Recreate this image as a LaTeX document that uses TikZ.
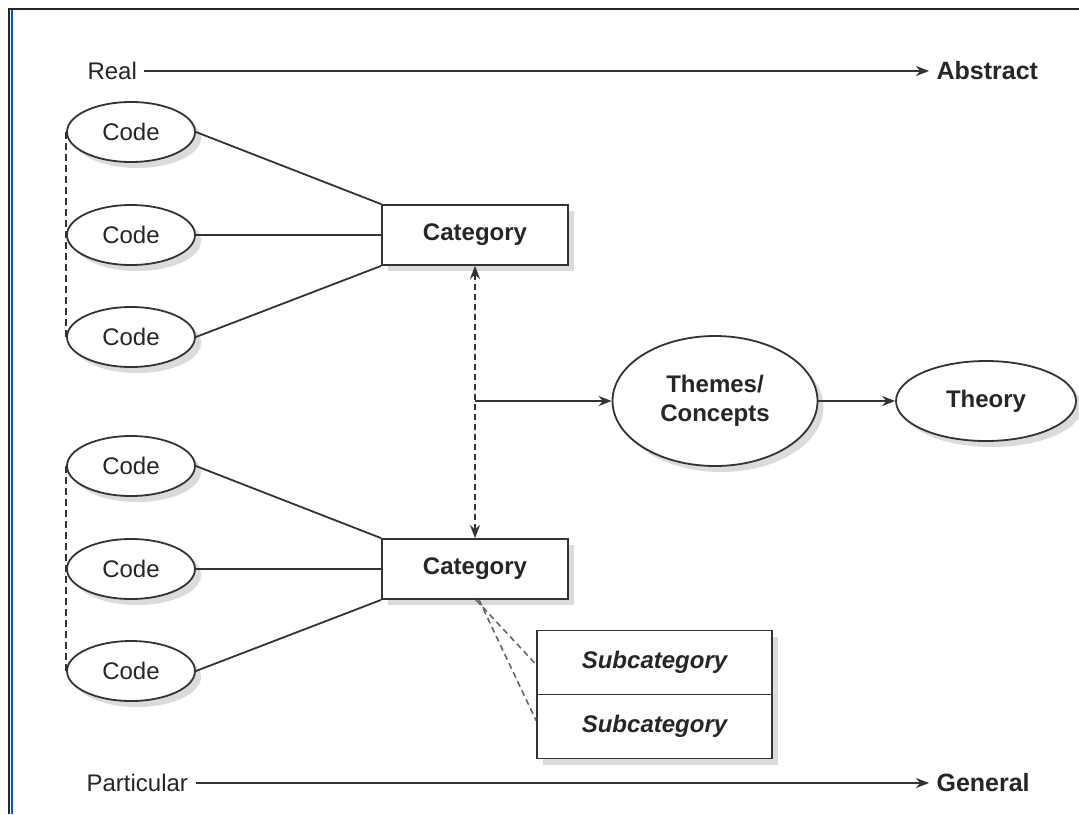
\documentclass[tikz,border=0pt]{standalone}
\usepackage{fontspec}
\setmainfont{Liberation Sans}
\usetikzlibrary{arrows.meta,shadows,shapes.geometric,calc}

\begin{document}
\begin{tikzpicture}[x=0.5pt,y=-0.5pt,
  line width=0.9pt,
  every node/.style={font=\fontsize{12}{14.5}\selectfont, text=black!85},
  shade/.style={drop shadow={shadow xshift=3pt, shadow yshift=-3pt, fill=black!28}},
  codeell/.style={ellipse, draw=black!80, fill=white, minimum width=64pt, minimum height=30pt, inner sep=0pt, shade},
  catbox/.style={rectangle, draw=black!80, fill=white, minimum width=93pt, minimum height=30pt, font=\fontsize{12}{14.5}\selectfont\bfseries, shade},
  subbox/.style={rectangle, draw=black!80, fill=white, minimum width=117.5pt, minimum height=32pt, font=\fontsize{12}{14.5}\selectfont\bfseries\itshape, shade},
  bigell/.style={ellipse, draw=black!80, fill=white, inner sep=0pt, align=center, font=\fontsize{12}{14.5}\selectfont\bfseries, shade},
  axislabel/.style={anchor=west},
  link/.style={draw=black!80},
  arr/.style={draw=black!80, -{Stealth[length=6.5pt,width=5pt]}},
  codelink/.style={draw=black!80, dash pattern=on 3.5pt off 2pt, line width=0.7pt},
  sublink/.style={draw=black!60, dash pattern=on 3pt off 2pt, line width=0.8pt}
]
\useasboundingbox (0,0) rectangle (1079,814);
\fill[white] (0,0) rectangle (1079,814);

% page frame
\draw[line width=1pt, black!85] (9,814) -- (9,9) -- (1079,9);
\draw[line width=1pt, blue!70!cyan] (12,10) -- (12,814);

% axes
\node[axislabel] (real) at (80,71) {Real};
\node[axislabel, font=\fontsize{12.5}{15}\selectfont\bfseries] (abstract) at (929,71) {Abstract};
\draw[arr] (real.east) -- (abstract.west);

\node[axislabel] (particular) at (79,783) {Particular};
\node[axislabel, font=\fontsize{12.5}{15}\selectfont\bfseries] (general) at (929,783) {General};
\draw[arr] (particular.east) -- (general.west);

% first group of codes
\node[codeell] (c1) at (131,132) {Code};
\node[codeell] (c2) at (131,235) {Code};
\node[codeell] (c3) at (131,337) {Code};
\node[catbox] (cat1) at (475,235) {Category};
\draw[codelink] (c1.west) -- (c3.west);
\draw[link] (c1.east) -- (cat1.north west);
\draw[link] (c2.east) -- (cat1.west);
\draw[link] (c3.east) -- (cat1.south west);

% second group of codes
\node[codeell] (c4) at (131,466) {Code};
\node[codeell] (c5) at (131,569) {Code};
\node[codeell] (c6) at (131,671) {Code};
\node[catbox] (cat2) at (475,569) {Category};
\draw[codelink] (c4.west) -- (c6.west);
\draw[link] (c4.east) -- (cat2.north west);
\draw[link] (c5.east) -- (cat2.west);
\draw[link] (c6.east) -- (cat2.south west);

% themes and theory
\node[bigell, minimum width=102.5pt, minimum height=65pt] (themes) at (715,401) {Themes/\\Concepts};
\node[bigell, minimum width=90pt, minimum height=40pt] (theory) at (986,401) {Theory};
\coordinate (mid) at (cat1.south |- themes.west);
\draw[draw=black!80, dash pattern=on 3pt off 2pt,
      {Stealth[length=6.5pt,width=5pt]}-{Stealth[length=6.5pt,width=5pt]}] (cat1.south) -- (cat2.north);
\draw[arr] (mid) -- (themes.west);
\draw[arr] (themes.east) -- (theory.west);

% subcategories
\node[subbox] (sub1) at (654.5,662.5) {Subcategory};
\node[subbox] (sub2) at (654.5,726.5) {Subcategory};
\draw[sublink] ([xshift=0.5pt]cat2.south) -- ([yshift=-1pt]sub1.west);
\draw[sublink] ([xshift=2pt]cat2.south) -- ([yshift=3pt]sub2.west);
\end{tikzpicture}
\end{document}
